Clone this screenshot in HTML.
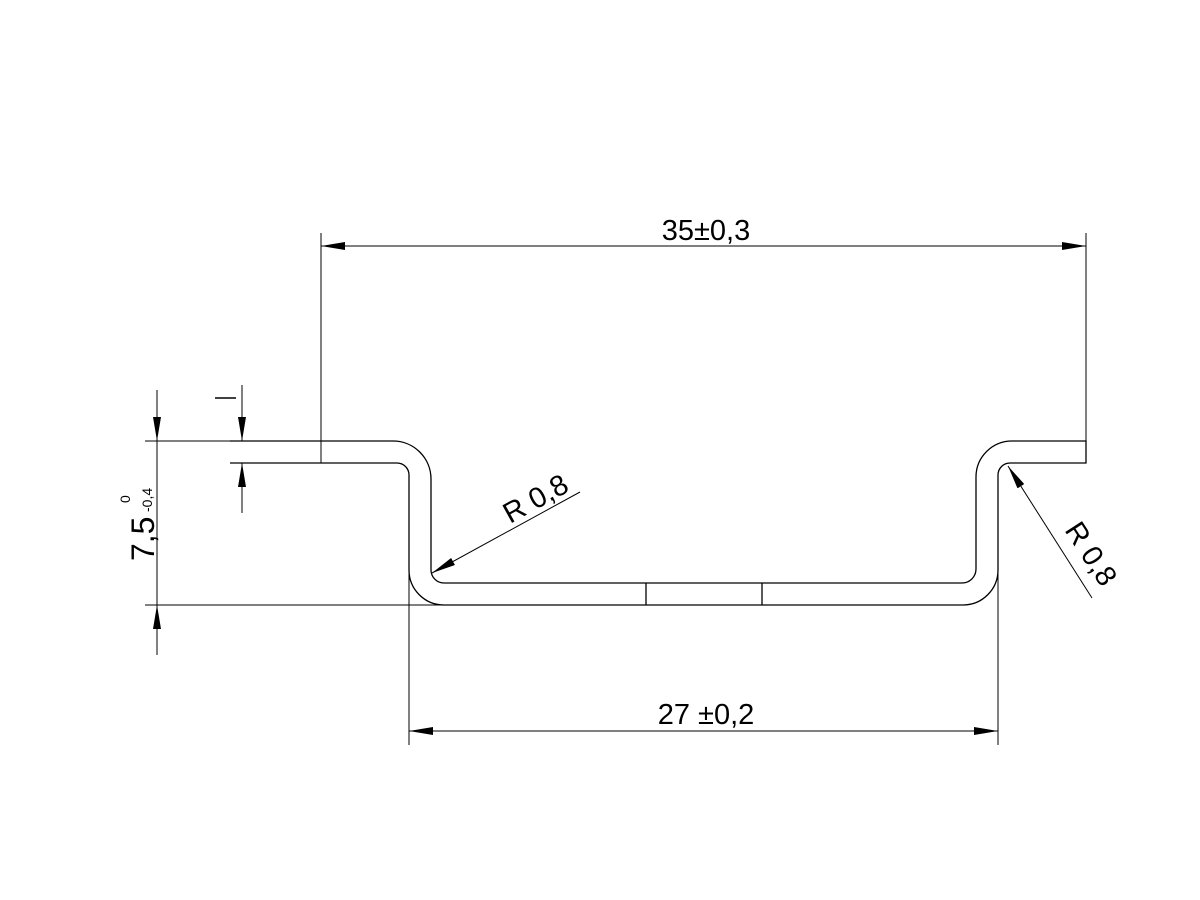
<!DOCTYPE html>
<html><head><meta charset="utf-8"><style>html,body{margin:0;padding:0;background:#fff}svg{display:block}</style></head>
<body>
<svg width="1200" height="900" viewBox="0 0 1200 900" xmlns="http://www.w3.org/2000/svg" font-family="Liberation Sans, sans-serif">
<defs>
<marker id="a" viewBox="0 0 24 8" refX="24" refY="4" markerWidth="24" markerHeight="8" markerUnits="userSpaceOnUse" orient="auto-start-reverse"><path d="M0,0 L24,4 L0,8 Z" fill="#000"/></marker>
</defs>
<g fill="none" stroke="#000" stroke-width="1.3">
<path d="M230,441 H393 A38,38 0 0 1 431,479 V570 A13,13 0 0 0 444,583 H962 A14,14 0 0 0 976,569 V477 A36,36 0 0 1 1012,441 H1086 V463 H1010 A12,12 0 0 0 998,475 V570 A35,35 0 0 1 963,605 H444 A35,35 0 0 1 409,570 V475 A12,12 0 0 0 397,463 H230"/>
<line x1="646" y1="583" x2="646" y2="605"/>
<line x1="762" y1="583" x2="762" y2="605"/>
</g>
<g fill="none" stroke="#000" stroke-width="1">
<line x1="321" y1="233" x2="321" y2="463"/>
<line x1="1086" y1="233" x2="1086" y2="441"/>
<line x1="409" y1="570" x2="409" y2="745"/>
<line x1="998" y1="570" x2="998" y2="745"/>
<line x1="145" y1="441" x2="230" y2="441"/>
<line x1="145" y1="605" x2="444" y2="605"/>
<line x1="321" y1="246" x2="1086" y2="246" marker-start="url(#a)" marker-end="url(#a)"/>
<line x1="409" y1="731" x2="998" y2="731" marker-start="url(#a)" marker-end="url(#a)"/>
<line x1="157" y1="390" x2="157" y2="441" marker-end="url(#a)"/>
<line x1="157" y1="655" x2="157" y2="605" marker-end="url(#a)"/>
<line x1="157" y1="441" x2="157" y2="605"/>
<line x1="242" y1="385" x2="242" y2="441" marker-end="url(#a)"/>
<line x1="242" y1="513" x2="242" y2="463" marker-end="url(#a)"/>
<line x1="215" y1="398" x2="236" y2="398" stroke-width="1.5"/>
<line x1="580" y1="492" x2="432" y2="573" marker-end="url(#a)"/>
<line x1="1092" y1="598" x2="1008" y2="466" marker-end="url(#a)"/>
</g>
<g fill="#000" font-size="29">
<text x="706" y="240" text-anchor="middle">35±0,3</text>
<text x="706" y="724" text-anchor="middle">27 ±0,2</text>
<text transform="translate(154,561) rotate(-90)" font-size="32">7,5</text>
<text transform="translate(152,512) rotate(-90)" font-size="14">-0,4</text>
<text transform="translate(130,503) rotate(-90)" font-size="14">0</text>
<text transform="translate(510,524) rotate(-29)">R 0,8</text>
<text transform="translate(1064,530) rotate(57)">R 0,8</text>
</g>
</svg>
</body></html>
